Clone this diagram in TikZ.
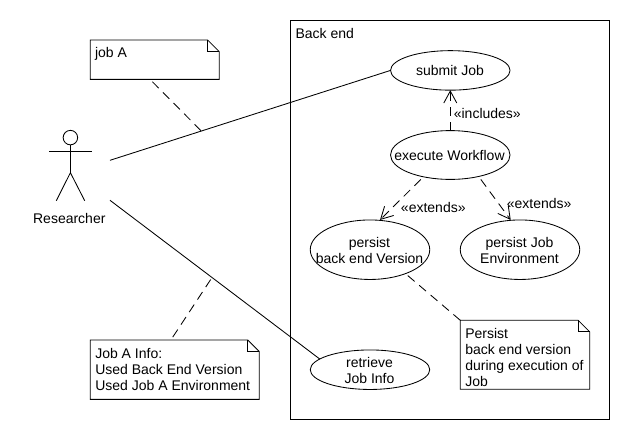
\documentclass[tikz,border=0pt]{standalone}
\usepackage{fontspec}
\setmainfont{Liberation Sans}
\usetikzlibrary{shapes.geometric,arrows.meta}
\tikzset{
  ln/.style={draw=black,line width=0.85pt},
  usecase/.style={ellipse,ln,inner sep=0pt,outer sep=0pt,minimum width=119.5pt},
  txt/.style={inner sep=0pt,outer sep=0pt,align=center,font=\fontsize{14}{16}\selectfont},
  notetxt/.style={txt,align=left,anchor=north west},
  notebody/.style={rectangle,inner sep=0pt,outer sep=0pt},
  dep/.style={ln,dash pattern=on 9pt off 6pt},
  opentip/.style={-{Straight Barb[length=12pt,width=13pt,line width=0.85pt]}},
}
\newcommand{\notefold}[1]{%
  \draw[ln,fill=white] (#1.north west) -- ([xshift=-11.5pt]#1.north east) -- ([yshift=-11.5pt]#1.north east) -- (#1.south east) -- (#1.south west) -- cycle;
  \draw[ln] ([xshift=-11.5pt]#1.north east) -- ([xshift=-11.5pt,yshift=-11.5pt]#1.north east) -- ([yshift=-11.5pt]#1.north east);
}
\begin{document}
\begin{tikzpicture}[x=1pt,y=-1pt]
\useasboundingbox[fill=white] (0,0) rectangle (630,440);
% system boundary
\node[notebody,ln,minimum width=319pt,minimum height=399.5pt] (backend) at (450,219.7) {};
\node[txt,anchor=west] (backendT) at (295.5,33) {Back end};
% use cases
\node[usecase,minimum height=39.5pt] (submit) at (450.3,70.4) {};
\node[txt] (submitT) at (450,70.5) {submit Job};
\node[usecase,minimum height=48.8pt] (exec) at (450.3,155) {};
\node[txt] (execT) at (449.5,155.5) {execute Workflow};
\node[usecase,minimum height=59.5pt] (version) at (370,249.7) {};
\node[txt] (versionT) at (369.5,250) {persist\\back end Version};
\node[usecase,minimum height=59.5pt] (envjob) at (520,249.7) {};
\node[txt] (envjobT) at (519.5,250) {persist Job\\Environment};
\node[usecase,minimum height=39.5pt] (retrieve) at (370,369.7) {};
\node[txt] (retrieveT) at (369.5,370) {retrieve\\Job Info};
% actor
\node[circle,ln,inner sep=0pt,minimum size=14.5pt] (head) at (70.4,137.6) {};
\coordinate (armL) at (49,151.3);
\coordinate (armR) at (91.7,151.3);
\coordinate (hip) at (70.4,172.7);
\coordinate (footL) at (56.3,200.7);
\coordinate (footR) at (84.7,200.7);
\draw[ln] (head.south) -- (hip);
\draw[ln] (armL) -- (armR);
\draw[ln] (footL) -- (hip) -- (footR);
\node[txt] (actorT) at (69.3,218.5) {Researcher};
\coordinate (actorA) at (110,160.3);
\coordinate (actorB) at (110,200.3);
% associations
\draw[ln] (actorA) -- (submit.west);
\draw[ln] (actorB) -- (retrieve.168);
\coordinate (onA) at (201,130.7);
\coordinate (onB) at (210.7,279.5);
% notes
\node[notebody,minimum width=129pt,minimum height=39.3pt] (noteA) at (154.7,59.7) {};
\notefold{noteA}
\node[notetxt] (noteAT) at (95,47.5) {job A};
\node[notebody,minimum width=169pt,minimum height=59.3pt] (noteInfo) at (174.8,369.7) {};
\notefold{noteInfo}
\node[notetxt] (noteInfoT) at (95.3,348) {Job A Info:\\Used Back End Version\\Used Job A Environment};
\node[notebody,minimum width=129.4pt,minimum height=69pt] (notePersist) at (525,354.8) {};
\notefold{notePersist}
\node[notetxt] (notePersistT) at (465.3,328) {Persist\\back end version\\during execution of\\Job};
% note links
\draw[dep] (onA) -- ([xshift=-4.7pt]noteA.south);
\draw[dep] (onB) -- ([xshift=-4pt]noteInfo.north);
\draw[dep] (notePersist.north west) -- (version.-34);
% dependencies
\draw[dep,opentip] (exec.north) -- (submit.south);
\draw[dep,opentip] ([xshift=-29.5pt]exec.south) -- ([xshift=10pt]version.north);
\draw[dep,opentip] ([xshift=30.5pt]exec.south) -- ([xshift=-9.3pt]envjob.north);
\node[txt] (incl) at (487.3,113) {«includes»};
\node[txt] (ext1) at (433.3,207.5) {«extends»};
\node[txt] (ext2) at (539.2,203.3) {«extends»};
\end{tikzpicture}
\end{document}
